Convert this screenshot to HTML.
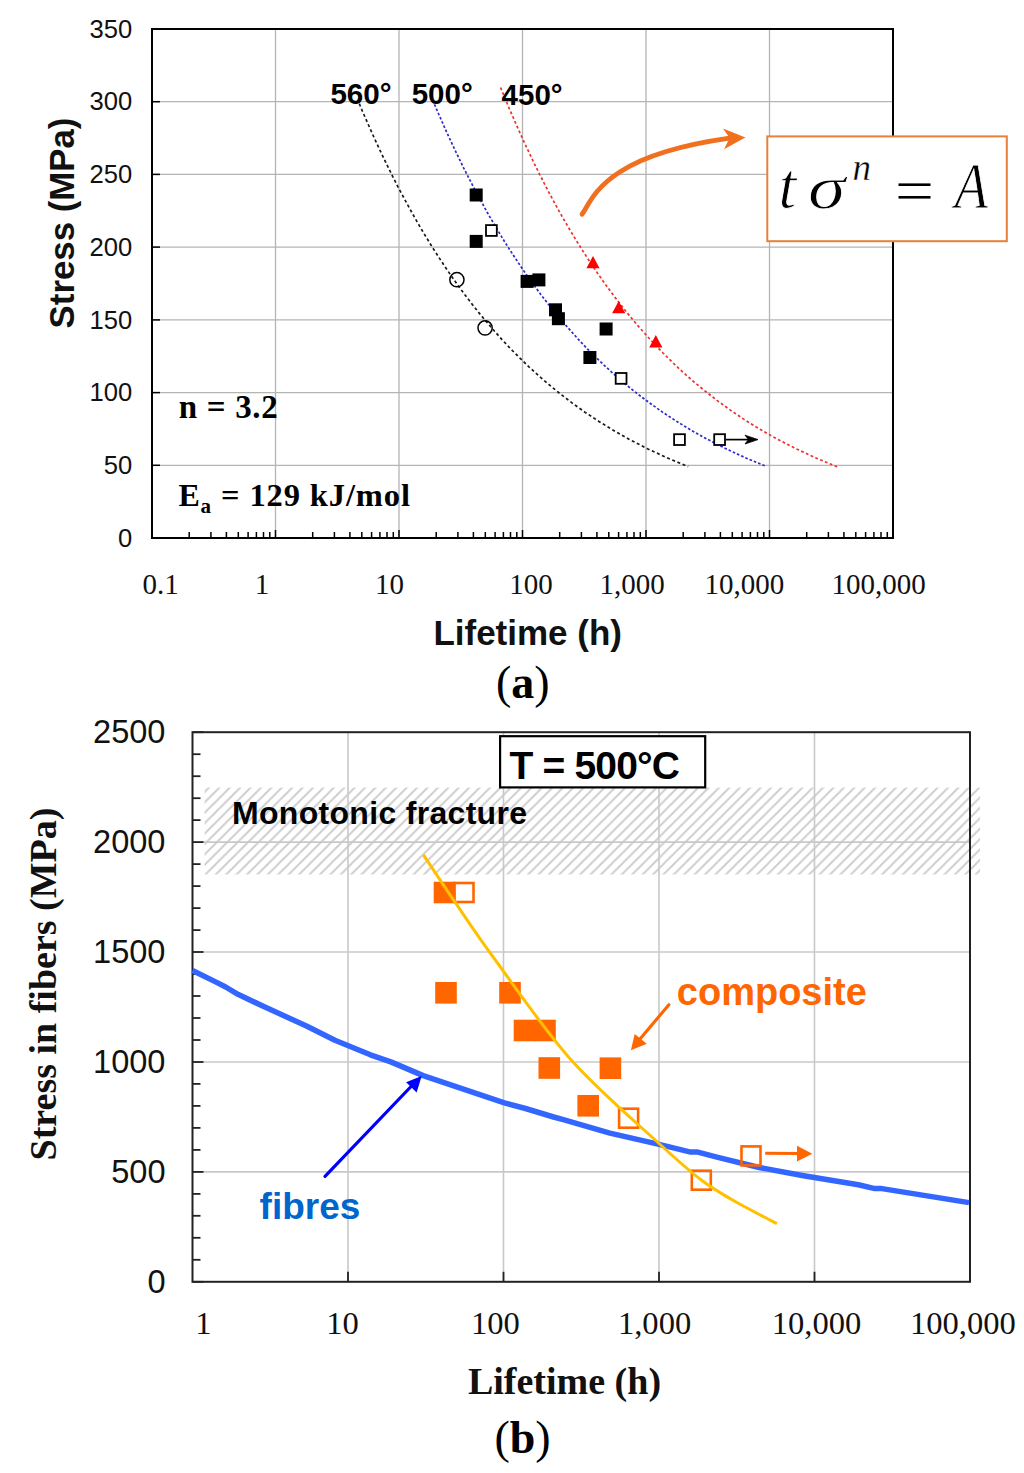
<!DOCTYPE html>
<html><head><meta charset="utf-8"><title>Figure</title>
<style>html,body{margin:0;padding:0;background:#fff;overflow:hidden;}svg{display:block;}</style>
</head><body>
<svg width="1024" height="1473" viewBox="0 0 1024 1473">
<rect width="1024" height="1473" fill="#fff"/>
<g stroke="#b4b4b4" stroke-width="1.3" fill="none">
<line x1="275.5" y1="29" x2="275.5" y2="538"/>
<line x1="399.0" y1="29" x2="399.0" y2="538"/>
<line x1="522.5" y1="29" x2="522.5" y2="538"/>
<line x1="646.0" y1="29" x2="646.0" y2="538"/>
<line x1="769.5" y1="29" x2="769.5" y2="538"/>
<line x1="152" y1="465.3" x2="893" y2="465.3"/>
<line x1="152" y1="392.6" x2="893" y2="392.6"/>
<line x1="152" y1="319.9" x2="893" y2="319.9"/>
<line x1="152" y1="247.1" x2="893" y2="247.1"/>
<line x1="152" y1="174.4" x2="893" y2="174.4"/>
<line x1="152" y1="101.7" x2="893" y2="101.7"/>
</g>
<g stroke="#000" stroke-width="1.5">
<line x1="152" y1="538.0" x2="160" y2="538.0"/>
<line x1="152" y1="465.3" x2="160" y2="465.3"/>
<line x1="152" y1="392.6" x2="160" y2="392.6"/>
<line x1="152" y1="319.9" x2="160" y2="319.9"/>
<line x1="152" y1="247.1" x2="160" y2="247.1"/>
<line x1="152" y1="174.4" x2="160" y2="174.4"/>
<line x1="152" y1="101.7" x2="160" y2="101.7"/>
<line x1="152" y1="29.0" x2="160" y2="29.0"/>
<line x1="189.2" y1="532" x2="189.2" y2="538"/>
<line x1="210.9" y1="532" x2="210.9" y2="538"/>
<line x1="226.4" y1="532" x2="226.4" y2="538"/>
<line x1="238.3" y1="532" x2="238.3" y2="538"/>
<line x1="248.1" y1="532" x2="248.1" y2="538"/>
<line x1="256.4" y1="532" x2="256.4" y2="538"/>
<line x1="263.5" y1="532" x2="263.5" y2="538"/>
<line x1="269.8" y1="532" x2="269.8" y2="538"/>
<line x1="312.7" y1="532" x2="312.7" y2="538"/>
<line x1="334.4" y1="532" x2="334.4" y2="538"/>
<line x1="349.9" y1="532" x2="349.9" y2="538"/>
<line x1="361.8" y1="532" x2="361.8" y2="538"/>
<line x1="371.6" y1="532" x2="371.6" y2="538"/>
<line x1="379.9" y1="532" x2="379.9" y2="538"/>
<line x1="387.0" y1="532" x2="387.0" y2="538"/>
<line x1="393.3" y1="532" x2="393.3" y2="538"/>
<line x1="275.5" y1="530" x2="275.5" y2="538"/>
<line x1="436.2" y1="532" x2="436.2" y2="538"/>
<line x1="457.9" y1="532" x2="457.9" y2="538"/>
<line x1="473.4" y1="532" x2="473.4" y2="538"/>
<line x1="485.3" y1="532" x2="485.3" y2="538"/>
<line x1="495.1" y1="532" x2="495.1" y2="538"/>
<line x1="503.4" y1="532" x2="503.4" y2="538"/>
<line x1="510.5" y1="532" x2="510.5" y2="538"/>
<line x1="516.8" y1="532" x2="516.8" y2="538"/>
<line x1="399.0" y1="530" x2="399.0" y2="538"/>
<line x1="559.7" y1="532" x2="559.7" y2="538"/>
<line x1="581.4" y1="532" x2="581.4" y2="538"/>
<line x1="596.9" y1="532" x2="596.9" y2="538"/>
<line x1="608.8" y1="532" x2="608.8" y2="538"/>
<line x1="618.6" y1="532" x2="618.6" y2="538"/>
<line x1="626.9" y1="532" x2="626.9" y2="538"/>
<line x1="634.0" y1="532" x2="634.0" y2="538"/>
<line x1="640.3" y1="532" x2="640.3" y2="538"/>
<line x1="522.5" y1="530" x2="522.5" y2="538"/>
<line x1="683.2" y1="532" x2="683.2" y2="538"/>
<line x1="704.9" y1="532" x2="704.9" y2="538"/>
<line x1="720.4" y1="532" x2="720.4" y2="538"/>
<line x1="732.3" y1="532" x2="732.3" y2="538"/>
<line x1="742.1" y1="532" x2="742.1" y2="538"/>
<line x1="750.4" y1="532" x2="750.4" y2="538"/>
<line x1="757.5" y1="532" x2="757.5" y2="538"/>
<line x1="763.8" y1="532" x2="763.8" y2="538"/>
<line x1="646.0" y1="530" x2="646.0" y2="538"/>
<line x1="806.7" y1="532" x2="806.7" y2="538"/>
<line x1="828.4" y1="532" x2="828.4" y2="538"/>
<line x1="843.9" y1="532" x2="843.9" y2="538"/>
<line x1="855.8" y1="532" x2="855.8" y2="538"/>
<line x1="865.6" y1="532" x2="865.6" y2="538"/>
<line x1="873.9" y1="532" x2="873.9" y2="538"/>
<line x1="881.0" y1="532" x2="881.0" y2="538"/>
<line x1="887.3" y1="532" x2="887.3" y2="538"/>
<line x1="769.5" y1="530" x2="769.5" y2="538"/>
</g>
<rect x="152" y="29" width="741" height="509" fill="none" stroke="#000" stroke-width="2"/>
<text x="132.3" y="546.6" font-family="Liberation Sans, sans-serif" font-size="25.6" text-anchor="end" fill="#111">0</text>
<text x="132.3" y="473.9" font-family="Liberation Sans, sans-serif" font-size="25.6" text-anchor="end" fill="#111">50</text>
<text x="132.3" y="401.2" font-family="Liberation Sans, sans-serif" font-size="25.6" text-anchor="end" fill="#111">100</text>
<text x="132.3" y="328.5" font-family="Liberation Sans, sans-serif" font-size="25.6" text-anchor="end" fill="#111">150</text>
<text x="132.3" y="255.7" font-family="Liberation Sans, sans-serif" font-size="25.6" text-anchor="end" fill="#111">200</text>
<text x="132.3" y="183.0" font-family="Liberation Sans, sans-serif" font-size="25.6" text-anchor="end" fill="#111">250</text>
<text x="132.3" y="110.3" font-family="Liberation Sans, sans-serif" font-size="25.6" text-anchor="end" fill="#111">300</text>
<text x="132.3" y="37.6" font-family="Liberation Sans, sans-serif" font-size="25.6" text-anchor="end" fill="#111">350</text>
<text x="160.7" y="594" font-family="Liberation Serif, serif" font-size="29" text-anchor="middle" fill="#111">0.1</text>
<text x="262" y="594" font-family="Liberation Serif, serif" font-size="29" text-anchor="middle" fill="#111">1</text>
<text x="389.4" y="594" font-family="Liberation Serif, serif" font-size="29" text-anchor="middle" fill="#111">10</text>
<text x="531" y="594" font-family="Liberation Serif, serif" font-size="29" text-anchor="middle" fill="#111">100</text>
<text x="632" y="594" font-family="Liberation Serif, serif" font-size="29" text-anchor="middle" fill="#111">1,000</text>
<text x="744.3" y="594" font-family="Liberation Serif, serif" font-size="29" text-anchor="middle" fill="#111">10,000</text>
<text x="878.6" y="594" font-family="Liberation Serif, serif" font-size="29" text-anchor="middle" fill="#111">100,000</text>
<text transform="translate(73.6,223) rotate(-90)" x="0" y="0" font-family="Liberation Sans, sans-serif" font-size="34.8" font-weight="bold" text-anchor="middle" fill="#111">Stress (MPa)</text>
<text x="527.7" y="644.7" font-family="Liberation Sans, sans-serif" font-size="35" font-weight="bold" text-anchor="middle" fill="#111">Lifetime (h)</text>
<text x="522.8" y="697.7" font-family="Liberation Serif, serif" font-size="46" text-anchor="middle" fill="#000">(<tspan font-weight="bold">a</tspan>)</text>
<path d="M359.3,103.7 L363.1,112.8 L367.1,121.8 L371.1,130.9 L375.2,140.0 L379.4,149.1 L383.7,158.1 L388.1,167.2 L392.6,176.3 L397.2,185.4 L402.0,194.4 L406.9,203.5 L411.9,212.6 L417.0,221.6 L422.3,230.7 L427.8,239.8 L433.4,248.9 L439.2,257.9 L445.2,267.0 L451.4,276.1 L457.8,285.2 L464.5,294.2 L471.4,303.3 L478.6,312.4 L486.1,321.4 L493.9,330.5 L502.0,339.6 L510.5,348.7 L519.5,357.7 L528.9,366.8 L538.8,375.9 L549.3,384.9 L560.4,394.0 L572.3,403.1 L585.0,412.2 L598.6,421.2 L613.3,430.3 L629.4,439.4 L647.0,448.5 L666.4,457.5 L688.2,466.6" fill="none" stroke="#1a1a1a" stroke-width="1.7" stroke-dasharray="3 2.6"/>
<path d="M434.5,104.4 L438.4,113.5 L442.4,122.5 L446.4,131.6 L450.6,140.6 L454.8,149.7 L459.2,158.7 L463.6,167.8 L468.2,176.8 L472.9,185.9 L477.7,194.9 L482.6,203.9 L487.6,213.0 L492.9,222.1 L498.2,231.1 L503.7,240.2 L509.4,249.2 L515.3,258.2 L521.3,267.3 L527.6,276.4 L534.1,285.4 L540.8,294.5 L547.8,303.5 L555.1,312.6 L562.6,321.6 L570.5,330.6 L578.7,339.7 L587.3,348.8 L596.4,357.8 L605.9,366.9 L615.9,375.9 L626.5,385.0 L637.7,394.0 L649.7,403.0 L662.5,412.1 L676.2,421.1 L691.1,430.2 L707.3,439.2 L725.0,448.3 L744.6,457.4 L766.5,466.4" fill="none" stroke="#2b2bd0" stroke-width="1.7" stroke-dasharray="2.6 2"/>
<path d="M500.6,87.5 L504.5,97.0 L508.4,106.5 L512.5,115.9 L516.6,125.4 L520.9,134.9 L525.2,144.4 L529.7,153.9 L534.2,163.4 L538.9,172.8 L543.7,182.3 L548.6,191.8 L553.7,201.3 L558.9,210.8 L564.3,220.3 L569.8,229.7 L575.5,239.2 L581.4,248.7 L587.5,258.2 L593.8,267.7 L600.3,277.1 L607.0,286.6 L614.1,296.1 L621.4,305.6 L629.0,315.1 L636.9,324.6 L645.2,334.0 L653.9,343.5 L663.0,353.0 L672.6,362.5 L682.7,372.0 L693.5,381.5 L704.9,390.9 L717.0,400.4 L730.1,409.9 L744.1,419.4 L759.3,428.9 L775.9,438.4 L794.1,447.8 L814.4,457.3 L837.2,466.8" fill="none" stroke="#ee3030" stroke-width="1.7" stroke-dasharray="2.8 2.4"/>
<rect x="469.7" y="188.5" width="13" height="13" fill="#000"/>
<rect x="469.7" y="234.9" width="13" height="13" fill="#000"/>
<rect x="520.6" y="274.9" width="13" height="13" fill="#000"/>
<rect x="532.4" y="273.4" width="13" height="13" fill="#000"/>
<rect x="549.0" y="303.3" width="13" height="13" fill="#000"/>
<rect x="551.9" y="312.2" width="13" height="13" fill="#000"/>
<rect x="599.6" y="322.5" width="13" height="13" fill="#000"/>
<rect x="583.4" y="351.0" width="13" height="13" fill="#000"/>
<rect x="486.0" y="225.1" width="10.8" height="10.8" fill="#fff" stroke="#000" stroke-width="1.8"/>
<rect x="615.7" y="373.0" width="10.8" height="10.8" fill="#fff" stroke="#000" stroke-width="1.8"/>
<rect x="674.1" y="434.2" width="10.8" height="10.8" fill="#fff" stroke="#000" stroke-width="1.8"/>
<rect x="714.2" y="434.2" width="10.8" height="10.8" fill="#fff" stroke="#000" stroke-width="1.8"/>
<circle cx="456.9" cy="279.7" r="7.1" fill="none" stroke="#000" stroke-width="1.5"/>
<circle cx="485.1" cy="327.9" r="7.1" fill="none" stroke="#000" stroke-width="1.5"/>
<path d="M586.4,268.3 L599.6,268.3 L593.0,256.0 Z" fill="#ff0000"/>
<path d="M612.1,313.2 L625.3,313.2 L618.7,300.9 Z" fill="#ff0000"/>
<path d="M649.2,347.4 L662.4,347.4 L655.8,335.1 Z" fill="#ff0000"/>
<line x1="726" y1="439.6" x2="750" y2="439.6" stroke="#000" stroke-width="1.7"/>
<path d="M758,439.6 L745,435.2 L748.5,439.6 L745,444 Z" fill="#000" stroke="#000" stroke-width="0.8" stroke-linejoin="miter"/>
<text x="330.4" y="104.3" font-family="Liberation Sans, sans-serif" font-size="29.6" font-weight="bold" fill="#000">560°</text>
<text x="411.7" y="104.3" font-family="Liberation Sans, sans-serif" font-size="29.5" font-weight="bold" fill="#000">500°</text>
<text x="501.6" y="105.4" font-family="Liberation Sans, sans-serif" font-size="29.5" font-weight="bold" fill="#000">450°</text>
<text x="178.8" y="418.2" font-family="Liberation Serif, serif" font-size="33" font-weight="bold" fill="#000" textLength="99">n = 3.2</text>
<text x="178.5" y="506" font-family="Liberation Serif, serif" font-size="32" font-weight="bold" fill="#000">E</text>
<text x="200.5" y="513" font-family="Liberation Serif, serif" font-size="21" font-weight="bold" fill="#000">a</text>
<text x="221" y="506" font-family="Liberation Serif, serif" font-size="32.5" font-weight="bold" fill="#000" textLength="189">= 129 kJ/mol</text>
<path d="M582,214.3 C592.8,199.7 601.7,156.1 729.6,138.2" fill="none" stroke="#f07020" stroke-width="4.8" stroke-linecap="round"/>
<path d="M745.4,137.6 L723,128.4 L729.6,138 L724,149.3 Z" fill="#f07020"/>
<rect x="767.3" y="136.4" width="239.5" height="104.8" fill="#fff" stroke="#e8803a" stroke-width="2"/>
<text transform="translate(778.5,207.5) scale(0.97,1)" font-family="Liberation Serif, serif" font-size="66" font-style="italic" fill="#000" stroke="#fff" stroke-width="0.9">t</text>
<text transform="translate(808,207.5) scale(1.15,0.94)" font-family="Liberation Serif, serif" font-size="66" font-style="italic" fill="#000" stroke="#fff" stroke-width="0.9">σ</text>
<text x="852.5" y="179.5" font-family="Liberation Serif, serif" font-size="37" font-style="italic" fill="#000" stroke="#fff" stroke-width="0.35">n</text>
<rect x="898.5" y="183.4" width="32" height="2.6" fill="#000"/><rect x="898.5" y="196" width="32" height="2.6" fill="#000"/>
<text transform="translate(954.5,207.5) scale(0.83,1)" font-family="Liberation Serif, serif" font-size="66" font-style="italic" fill="#000" stroke="#fff" stroke-width="0.9">A</text>
<defs><pattern id="hatch" patternUnits="userSpaceOnUse" width="10.41" height="10.41" patternTransform="translate(7.67,0)"><path d="M-3,3 L3,-3 M0,10.41 L10.41,0 M7.41,13.41 L13.41,7.41" stroke="#cdcdcd" stroke-width="1.9"/></pattern></defs>
<rect x="204.6" y="787.6" width="775.4" height="86.9" fill="url(#hatch)"/>
<g stroke="#c8c8c8" stroke-width="1.6" fill="none">
<line x1="348.0" y1="732.2" x2="348.0" y2="1281.8"/>
<line x1="503.5" y1="732.2" x2="503.5" y2="1281.8"/>
<line x1="659.0" y1="732.2" x2="659.0" y2="1281.8"/>
<line x1="814.5" y1="732.2" x2="814.5" y2="1281.8"/>
<line x1="192.5" y1="1171.9" x2="970" y2="1171.9"/>
<line x1="192.5" y1="1062.0" x2="970" y2="1062.0"/>
<line x1="192.5" y1="952.0" x2="970" y2="952.0"/>
<line x1="192.5" y1="842.1" x2="970" y2="842.1"/>
</g>
<g stroke="#222" stroke-width="1.8">
<line x1="192.5" y1="1281.8" x2="203.5" y2="1281.8"/>
<line x1="192.5" y1="1259.8" x2="200.5" y2="1259.8"/>
<line x1="192.5" y1="1237.8" x2="200.5" y2="1237.8"/>
<line x1="192.5" y1="1215.8" x2="200.5" y2="1215.8"/>
<line x1="192.5" y1="1193.9" x2="200.5" y2="1193.9"/>
<line x1="192.5" y1="1171.9" x2="203.5" y2="1171.9"/>
<line x1="192.5" y1="1149.9" x2="200.5" y2="1149.9"/>
<line x1="192.5" y1="1127.9" x2="200.5" y2="1127.9"/>
<line x1="192.5" y1="1105.9" x2="200.5" y2="1105.9"/>
<line x1="192.5" y1="1083.9" x2="200.5" y2="1083.9"/>
<line x1="192.5" y1="1062.0" x2="203.5" y2="1062.0"/>
<line x1="192.5" y1="1040.0" x2="200.5" y2="1040.0"/>
<line x1="192.5" y1="1018.0" x2="200.5" y2="1018.0"/>
<line x1="192.5" y1="996.0" x2="200.5" y2="996.0"/>
<line x1="192.5" y1="974.0" x2="200.5" y2="974.0"/>
<line x1="192.5" y1="952.0" x2="203.5" y2="952.0"/>
<line x1="192.5" y1="930.1" x2="200.5" y2="930.1"/>
<line x1="192.5" y1="908.1" x2="200.5" y2="908.1"/>
<line x1="192.5" y1="886.1" x2="200.5" y2="886.1"/>
<line x1="192.5" y1="864.1" x2="200.5" y2="864.1"/>
<line x1="192.5" y1="842.1" x2="203.5" y2="842.1"/>
<line x1="192.5" y1="820.1" x2="200.5" y2="820.1"/>
<line x1="192.5" y1="798.2" x2="200.5" y2="798.2"/>
<line x1="192.5" y1="776.2" x2="200.5" y2="776.2"/>
<line x1="192.5" y1="754.2" x2="200.5" y2="754.2"/>
<line x1="192.5" y1="732.2" x2="203.5" y2="732.2"/>
<line x1="348.0" y1="1271.8" x2="348.0" y2="1281.8"/>
<line x1="503.5" y1="1271.8" x2="503.5" y2="1281.8"/>
<line x1="659.0" y1="1271.8" x2="659.0" y2="1281.8"/>
<line x1="814.5" y1="1271.8" x2="814.5" y2="1281.8"/>
</g>
<rect x="192.5" y="732.2" width="777.5" height="549.5999999999999" fill="none" stroke="#222" stroke-width="2"/>
<text x="165.5" y="1292.8" font-family="Liberation Sans, sans-serif" font-size="32.6" text-anchor="end" fill="#111">0</text>
<text x="165.5" y="1182.9" font-family="Liberation Sans, sans-serif" font-size="32.6" text-anchor="end" fill="#111">500</text>
<text x="165.5" y="1073.0" font-family="Liberation Sans, sans-serif" font-size="32.6" text-anchor="end" fill="#111">1000</text>
<text x="165.5" y="963.0" font-family="Liberation Sans, sans-serif" font-size="32.6" text-anchor="end" fill="#111">1500</text>
<text x="165.5" y="853.1" font-family="Liberation Sans, sans-serif" font-size="32.6" text-anchor="end" fill="#111">2000</text>
<text x="165.5" y="743.2" font-family="Liberation Sans, sans-serif" font-size="32.6" text-anchor="end" fill="#111">2500</text>
<text x="203.5" y="1334" font-family="Liberation Serif, serif" font-size="32.6" text-anchor="middle" fill="#111">1</text>
<text x="342.5" y="1334" font-family="Liberation Serif, serif" font-size="32.6" text-anchor="middle" fill="#111">10</text>
<text x="495.4" y="1334" font-family="Liberation Serif, serif" font-size="32.6" text-anchor="middle" fill="#111">100</text>
<text x="654.6" y="1334" font-family="Liberation Serif, serif" font-size="32.6" text-anchor="middle" fill="#111">1,000</text>
<text x="816.5" y="1334" font-family="Liberation Serif, serif" font-size="32.6" text-anchor="middle" fill="#111">10,000</text>
<text x="962.9" y="1334" font-family="Liberation Serif, serif" font-size="32.6" text-anchor="middle" fill="#111">100,000</text>
<text transform="translate(56,984) rotate(-90)" x="0" y="0" font-family="Liberation Serif, serif" font-size="38" font-weight="bold" text-anchor="middle" fill="#111">Stress in fibers (MPa)</text>
<text x="564.5" y="1394" font-family="Liberation Serif, serif" font-size="38" font-weight="bold" text-anchor="middle" fill="#111">Lifetime (h)</text>
<text x="522.5" y="1453" font-family="Liberation Serif, serif" font-size="46" text-anchor="middle" fill="#000">(<tspan font-weight="bold">b</tspan>)</text>
<text x="232" y="823.7" font-family="Liberation Sans, sans-serif" font-size="32" font-weight="bold" fill="#000" textLength="295">Monotonic fracture</text>
<rect x="500.1" y="736.2" width="205.1" height="51.2" fill="#fff" stroke="#000" stroke-width="2.2"/>
<text x="509.5" y="778.9" font-family="Liberation Sans, sans-serif" font-size="39" font-weight="bold" fill="#000" textLength="170.5">T = 500°C</text>
<polyline points="192.5,970.5 215.6,981.9 225.7,987.0 238.4,994.6 263.8,1006.5 307.0,1026.3 334.9,1040.3 370.4,1054.8 390.8,1061.9 423.2,1075.6 455.2,1086.4 504.4,1102.9 525.5,1108.5 553.6,1117.0 564.2,1119.8 609.9,1133.1 659.1,1144.4 690.7,1152.1 697.8,1152.1 718.9,1157.7 759.2,1167.5 802.2,1175.5 858.4,1184.8 874.8,1188.6 881.9,1188.6 928.7,1196.1 969.0,1202.6" fill="none" stroke="#3366ff" stroke-width="5.5" stroke-linejoin="round"/>
<rect x="433.7" y="881.7" width="21.6" height="21.6" fill="#ff6600"/>
<rect x="435.2" y="982.0" width="21.6" height="21.6" fill="#ff6600"/>
<rect x="499.2" y="982.0" width="21.6" height="21.6" fill="#ff6600"/>
<rect x="513.7" y="1019.7" width="21.6" height="21.6" fill="#ff6600"/>
<rect x="534.2" y="1019.7" width="21.6" height="21.6" fill="#ff6600"/>
<rect x="538.5" y="1057.2" width="21.6" height="21.6" fill="#ff6600"/>
<rect x="599.6" y="1057.4" width="21.6" height="21.6" fill="#ff6600"/>
<rect x="577.4" y="1095.0" width="21.6" height="21.6" fill="#ff6600"/>
<rect x="454.5" y="883.0" width="19" height="19" fill="none" stroke="#ff6600" stroke-width="2.6"/>
<rect x="619.1" y="1108.7" width="19" height="19" fill="none" stroke="#ff6600" stroke-width="2.6"/>
<rect x="691.8" y="1170.7" width="19" height="19" fill="none" stroke="#ff6600" stroke-width="2.6"/>
<rect x="741.5" y="1146.4" width="19" height="19" fill="none" stroke="#ff6600" stroke-width="2.6"/>
<path d="M423.4,854.8 C428.6,862.6 442.7,884.2 454.7,901.7 C466.7,919.2 475.9,933.6 495.3,960.0 C514.7,986.4 543.8,1029.3 571.2,1060.0 C598.6,1090.7 637.9,1124.0 659.6,1144.0 C681.3,1164.0 689.1,1170.7 701.3,1180.0 C713.5,1189.3 720.0,1192.7 732.6,1200.0 C745.2,1207.3 769.5,1219.8 776.9,1223.7" fill="none" stroke="#ffc000" stroke-width="3"/>
<line x1="668.9" y1="1004.7" x2="640" y2="1039" stroke="#ff6600" stroke-width="3.1" stroke-linecap="round"/>
<path d="M630.9,1050.2 L634.7,1034.1 L646.7,1043.7 Z" fill="#ff6600"/>
<line x1="765.2" y1="1153.2" x2="799" y2="1153.6" stroke="#ff6600" stroke-width="3"/>
<path d="M812.3,1153.8 L797,1145.7 L797,1161.4 Z" fill="#ff6600"/>
<line x1="325" y1="1176.4" x2="412" y2="1085.5" stroke="#0000ff" stroke-width="3.2" stroke-linecap="round"/>
<path d="M421.7,1076.1 L406.1,1082.2 L416.6,1092.5 Z" fill="#0000ff"/>
<text x="259.6" y="1219.2" font-family="Liberation Sans, sans-serif" font-size="37" font-weight="bold" fill="#0066cc">fibres</text>
<text x="676.8" y="1004.8" font-family="Liberation Sans, sans-serif" font-size="38" font-weight="bold" fill="#ff6600">composite</text>
</svg>
</body></html>
